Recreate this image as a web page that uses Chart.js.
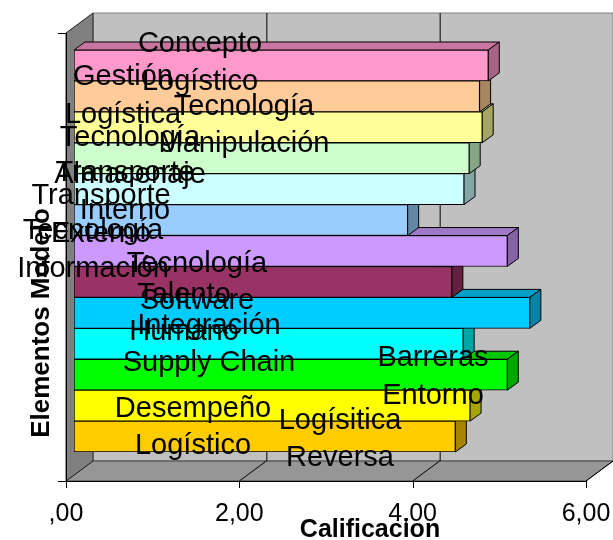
<!DOCTYPE html>
<html>
<head>
<meta charset="utf-8">
<script src="https://cdn.jsdelivr.net/npm/chart.js@4.4.0/dist/chart.umd.min.js"></script>
<style>
  body { margin: 0; background: #fff; }
</style>
</head>
<body>
<canvas id="chart" width="613" height="540"></canvas>
<script>
// Categories, top to bottom as they sit in the chart
const categories = [
  ["Concepto", "Logístico"],
  ["Gestión", "Logística"],
  ["Tecnología", "Manipulación"],
  ["Tecnología", "Almacenaje"],
  ["Transporte", "Interno"],
  ["Transporte", "Externo"],
  ["Tecnología", "Información"],
  ["Tecnología", "Software"],
  ["Talento", "Humano"],
  ["Integración", "Supply Chain"],
  ["Barreras", "Entorno"],
  ["Desempeño", "Logístico"],
  ["Logísitica", "Reversa"]
];
const scores = [4.78, 4.68, 4.71, 4.56, 4.50, 3.85, 5.00, 4.36, 5.26, 4.49, 5.00, 4.57, 4.40];
const barColors = [
  "#FF99CC", "#FFCC99", "#FFFF99", "#CCFFCC", "#CCFFFF", "#99CCFF", "#CC99FF",
  "#993366", "#00CCFF", "#00FFFF", "#00FF00", "#FFFF00", "#FFCC00"
];
const xTickLabels = [",00", "2,00", "4,00", "6,00"];

// Where the old chart dropped each category label (x centre, shift from bar centre)
const labelX = [200, 123, 244, 130, 125, 101, 93, 197, 184, 209, 433, 193, 340];
const labelDy = [5.5, 7.5, 6, 6.5, 11, 3, 7, 8.5, 8.5, 8.5, 10.5, 30, 11];

const FONT = '"Liberation Sans", Arial, sans-serif';
const DEPTH = { x: 27, y: -20 };      // depth of the box walls
const BAR_SHIFT = { x: 8, y: -6 };    // bars sit a bit inside the box
const BAR_DEPTH = { x: 11, y: -8 };   // thickness of each bar
const PLANE_PAD = 23;                 // box extends past the bars top and bottom

// Helper: darken a hex colour
function shade(hex, f) {
  const n = parseInt(hex.slice(1), 16);
  const r = Math.round(((n >> 16) & 255) * f);
  const g = Math.round(((n >> 8) & 255) * f);
  const b = Math.round((n & 255) * f);
  return `rgb(${r},${g},${b})`;
}

function poly(ctx, pts, fill, stroke) {
  ctx.beginPath();
  ctx.moveTo(pts[0][0], pts[0][1]);
  for (let i = 1; i < pts.length; i++) ctx.lineTo(pts[i][0], pts[i][1]);
  ctx.closePath();
  if (fill) { ctx.fillStyle = fill; ctx.fill(); }
  if (stroke) { ctx.strokeStyle = stroke; ctx.lineWidth = 1; ctx.stroke(); }
}

function line(ctx, x1, y1, x2, y2, color) {
  ctx.beginPath();
  ctx.moveTo(x1, y1);
  ctx.lineTo(x2, y2);
  ctx.strokeStyle = color;
  ctx.lineWidth = 1;
  ctx.stroke();
}

const box3d = {
  id: 'box3d',
  beforeDatasetsDraw(chart) {
    const ctx = chart.ctx;
    const xs = chart.scales.x;
    const ca = chart.chartArea;
    const left = xs.getPixelForValue(0);
    const right = xs.getPixelForValue(6);
    const top = ca.top - PLANE_PAD;
    const bottom = ca.bottom + PLANE_PAD;
    const dx = DEPTH.x, dy = DEPTH.y;

    // back wall
    poly(ctx, [[left + dx, top + dy], [right + dx, top + dy], [right + dx, bottom + dy], [left + dx, bottom + dy]], '#C0C0C0', '#808080');
    // floor
    poly(ctx, [[left, bottom], [left + dx, bottom + dy], [right + dx, bottom + dy], [right, bottom]], '#969696', '#404040');
    // side wall
    poly(ctx, [[left, top], [left + dx, top + dy], [left + dx, bottom + dy], [left, bottom]], '#808080', '#202020');

    // gridlines on the back wall and floor
    [2, 4, 6].forEach(v => {
      const px = xs.getPixelForValue(v);
      line(ctx, px + dx + 0.5, top + dy, px + dx + 0.5, bottom + dy, '#000');
      line(ctx, px, bottom, px + dx, bottom + dy, '#000');
    });

    // axis lines and tick marks
    line(ctx, left - 8, bottom + 0.5, right, bottom + 0.5, '#000');
    line(ctx, left + 0.5, top, left + 0.5, bottom, '#000');
    line(ctx, left - 8, top + 0.5, left, top + 0.5, '#000');
    [0, 2, 4, 6].forEach(v => {
      const px = Math.round(xs.getPixelForValue(v)) + 0.5;
      line(ctx, px, bottom, px, bottom + 7, '#000');
    });

    // bar tops and ends, bottom bar first
    ctx.save();
    ctx.translate(BAR_SHIFT.x, BAR_SHIFT.y);
    const meta = chart.getDatasetMeta(0);
    const bx = BAR_DEPTH.x, by = BAR_DEPTH.y;
    for (let i = meta.data.length - 1; i >= 0; i--) {
      const bar = meta.data[i];
      const L = bar.base, R = bar.x;
      const T = bar.y - bar.height / 2, B = bar.y + bar.height / 2;
      poly(ctx, [[L, T], [L + bx, T + by], [R + bx, T + by], [R, T]], shade(barColors[i], 0.78), '#000');
      poly(ctx, [[R, T], [R + bx, T + by], [R + bx, B + by], [R, B]], shade(barColors[i], 0.65), '#000');
    }
    // stays translated so the bar fronts line up
  },
  afterDatasetsDraw(chart) {
    const ctx = chart.ctx;
    ctx.restore();
    const ys = chart.scales.y;

    // category labels
    ctx.save();
    ctx.fillStyle = '#000';
    ctx.font = `29px ${FONT}`;
    ctx.textAlign = 'center';
    ctx.textBaseline = 'alphabetic';
    categories.forEach((lab, i) => {
      const mid = ys.getPixelForValue(i) + BAR_SHIFT.y + labelDy[i];
      ctx.fillText(lab[0], labelX[i], mid - 18.75);
      ctx.fillText(lab[1], labelX[i], mid + 18.75);
    });

    // axis titles
    ctx.font = `bold 25px ${FONT}`;
    ctx.fillText('Calificacion', 370, 537);
    ctx.translate(49, 323);
    ctx.rotate(-Math.PI / 2);
    ctx.font = `bold 26px ${FONT}`;
    ctx.fillText('Elementos Modelo', 0, 0);
    ctx.restore();
  }
};

new Chart(document.getElementById('chart'), {
  type: 'bar',
  data: {
    labels: categories,
    datasets: [{
      data: scores,
      backgroundColor: barColors,
      borderColor: '#000',
      borderWidth: 1,
      borderSkipped: false,
      barPercentage: 1,
      categoryPercentage: 1
    }]
  },
  options: {
    indexAxis: 'y',
    responsive: false,
    animation: false,
    layout: { padding: { left: 66, right: 27, top: 56, bottom: 0 } },
    plugins: {
      legend: { display: false },
      tooltip: { enabled: false }
    },
    scales: {
      x: {
        min: 0,
        max: 6,
        grid: { display: false, drawTicks: false },
        border: { display: false },
        ticks: {
          stepSize: 2,
          padding: 41,
          color: '#000',
          font: { family: FONT, size: 25 },
          callback: v => xTickLabels[v / 2]
        },
        afterFit(scale) {
          scale.height = 82;
          scale.paddingLeft = 0;
          scale.paddingRight = 0;
        }
      },
      y: { display: false }
    }
  },
  plugins: [box3d]
});
</script>
</body>
</html>
